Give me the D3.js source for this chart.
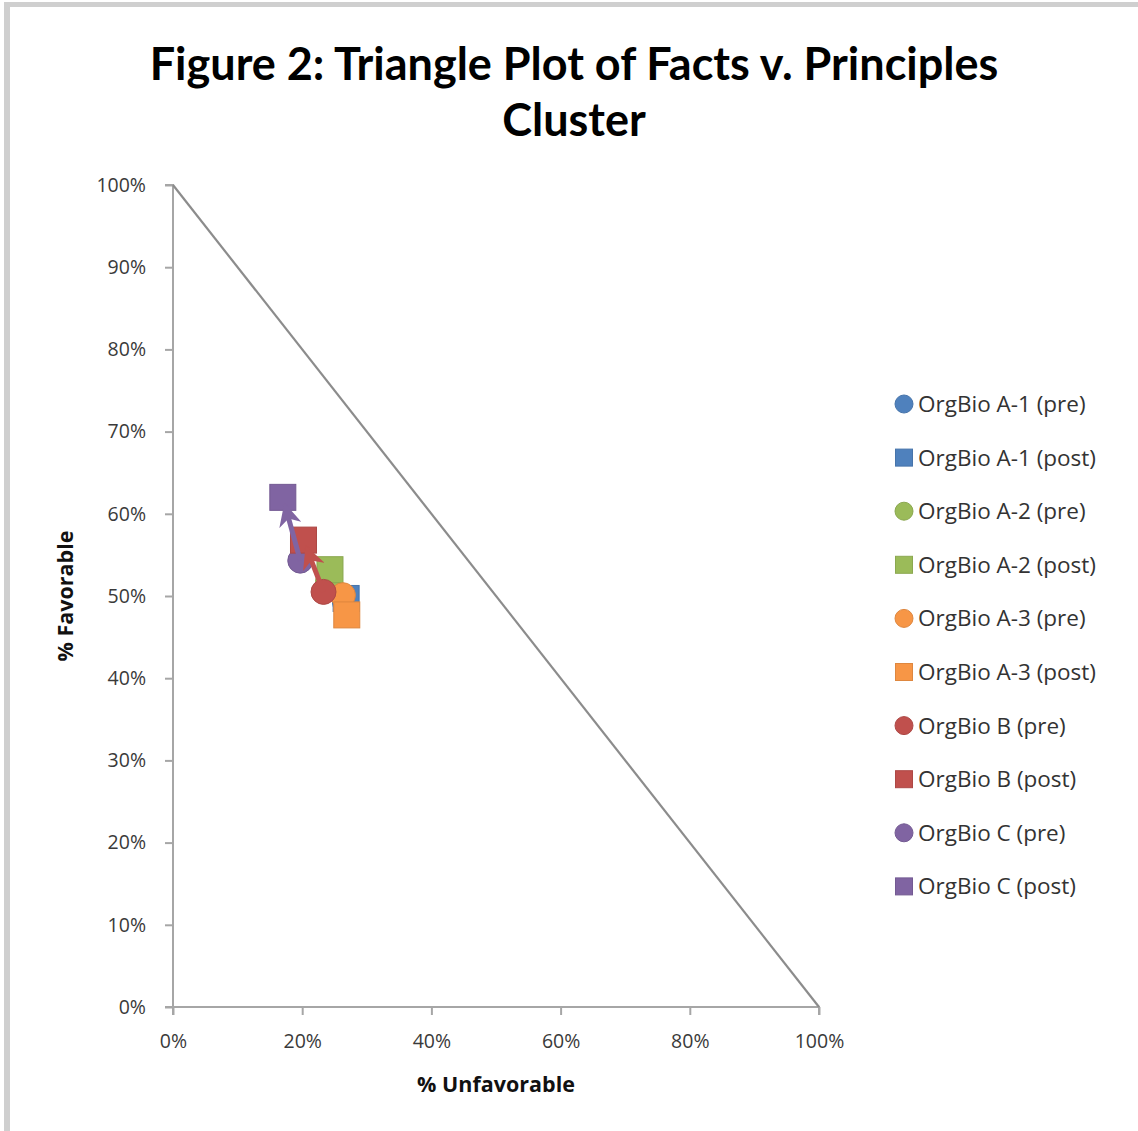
<!DOCTYPE html>
<html>
<head>
<meta charset="utf-8">
<script src="https://cdn.jsdelivr.net/npm/d3@7"></script>
<style>
  html, body { margin: 0; padding: 0; background: #fff; }
  svg { display: block; }
</style>
</head>
<body>
<svg id="chart" width="1138" height="1131"></svg>
<script>
// Series shown in the legend, in order
const seriesNames = [
  "OrgBio A-1 (pre)", "OrgBio A-1 (post)",
  "OrgBio A-2 (pre)", "OrgBio A-2 (post)",
  "OrgBio A-3 (pre)", "OrgBio A-3 (post)",
  "OrgBio B (pre)", "OrgBio B (post)",
  "OrgBio C (pre)", "OrgBio C (post)"
];
// Share of unfavorable responses (x) and favorable responses (y)
const unfavorable = [0.266, 0.268, 0.240, 0.243, 0.263, 0.269, 0.233, 0.202, 0.197, 0.170];
const favorable   = [0.493, 0.497, 0.518, 0.532, 0.501, 0.477, 0.505, 0.568, 0.543, 0.620];
const markerShapes = ["circle", "square", "circle", "square", "circle", "square", "circle", "square", "circle", "square"];
const seriesColors = ["#4f81bd", "#4f81bd", "#9bbb59", "#9bbb59", "#f79646", "#f79646", "#c0504d", "#c0504d", "#8064a2", "#8064a2"];
// Pre → post shifts drawn as arrows
const shiftArrows = [["OrgBio C (pre)", "OrgBio C (post)"], ["OrgBio B (pre)", "OrgBio B (post)"]];
// Marker stacking order (first drawn is at the bottom)
const drawOrder = [0, 1, 2, 3, 4, 5, 6, 8, 7, 9];
const axisTicks = [0, 0.1, 0.2, 0.3, 0.4, 0.5, 0.6, 0.7, 0.8, 0.9, 1];
const xTicks = [0, 0.2, 0.4, 0.6, 0.8, 1];

const svg = d3.select("#chart");
const fmt = d3.format(".0%");

// Chart frame (top and left edges)
svg.append("line").attr("x1", 4).attr("x2", 1138).attr("y1", 4.5).attr("y2", 4.5)
  .attr("stroke", "#cfcfcf").attr("stroke-width", 5);
svg.append("line").attr("x1", 7).attr("x2", 7).attr("y1", 2).attr("y2", 1131)
  .attr("stroke", "#cfcfcf").attr("stroke-width", 6);

// Title
const title = svg.append("text")
  .attr("x", 574).attr("text-anchor", "middle")
  .attr("font-family", "Lato, 'Open Sans', sans-serif")
  .attr("font-weight", "bold").attr("font-size", 45).attr("fill", "#000");
title.append("tspan").attr("x", 574).attr("y", 80).text("Figure 2: Triangle Plot of Facts v. Principles");
title.append("tspan").attr("x", 574).attr("y", 136).text("Cluster");

const x = d3.scaleLinear().domain([0, 1]).range([173, 819]);
const y = d3.scaleLinear().domain([0, 1]).range([1007, 185]);

const tickFont = "'Open Sans', Lato, sans-serif";

// Y axis
const yAxis = svg.append("g").attr("transform", `translate(${x(0)},0)`)
  .call(d3.axisLeft(y).tickValues(axisTicks).tickFormat(fmt).tickSize(8).tickPadding(19));
// X axis
const xAxis = svg.append("g").attr("transform", `translate(0,${y(0)})`)
  .call(d3.axisBottom(x).tickValues(xTicks).tickFormat(fmt).tickSize(8).tickPadding(19));

[yAxis, xAxis].forEach(g => {
  g.select(".domain").attr("stroke", "#a6a6a6").attr("stroke-width", 2);
  g.selectAll(".tick line").attr("stroke", "#a6a6a6").attr("stroke-width", 2);
  g.selectAll(".tick text").attr("font-family", tickFont).attr("font-size", 19.5).attr("fill", "#3a3a3a");
});
yAxis.select(".domain").attr("d", `M-8,${y(1)}H0V${y(0)}H-8`);
xAxis.select(".domain").attr("d", `M${x(0)},8V0H${x(1)}V8`);

// Axis titles
svg.append("text").attr("transform", `translate(73,${y(0.5)}) rotate(-90)`)
  .attr("text-anchor", "middle").attr("font-family", tickFont).attr("font-weight", "bold")
  .attr("font-size", 21.5).attr("fill", "#111").text("% Favorable");
svg.append("text").attr("x", 496).attr("y", 1092)
  .attr("text-anchor", "middle").attr("font-family", tickFont).attr("font-weight", "bold")
  .attr("font-size", 21.5).attr("fill", "#111").text("% Unfavorable");

// Boundary of the triangle: favorable + unfavorable = 100%
svg.append("line")
  .attr("x1", x(0)).attr("y1", y(1)).attr("x2", x(1)).attr("y2", y(0))
  .attr("stroke", "#8c8c8c").attr("stroke-width", 2.2);

// Data markers
const points = seriesNames.map((name, i) => ({
  name, ux: unfavorable[i], fy: favorable[i], shape: markerShapes[i], color: seriesColors[i]
}));

function drawMarker(sel, d, size) {
  if (d.shape === "circle") {
    sel.append("circle").attr("r", size / 2).attr("fill", d.color)
      .attr("stroke", d3.color(d.color).darker(0.3)).attr("stroke-width", 1);
  } else {
    sel.append("rect").attr("x", -size / 2).attr("y", -size / 2)
      .attr("width", size).attr("height", size).attr("fill", d.color)
      .attr("stroke", d3.color(d.color).darker(0.3)).attr("stroke-width", 1);
  }
}

const plot = svg.append("g");
drawOrder.forEach(i => {
  const d = points[i];
  const g = plot.append("g").attr("transform", `translate(${x(d.ux)},${y(d.fy)})`);
  drawMarker(g, d, d.shape === "circle" ? 25 : 26);
});

// Arrows from pre to post
const defs = svg.append("defs");
shiftArrows.forEach(([from, to], k) => {
  const a = points.find(p => p.name === from);
  const b = points.find(p => p.name === to);
  const id = "arrow" + k;
  defs.append("marker").attr("id", id).attr("viewBox", "0 0 10 10")
    .attr("refX", 9).attr("refY", 5).attr("markerWidth", 4.6).attr("markerHeight", 4.6)
    .attr("markerUnits", "strokeWidth").attr("orient", "auto")
    .append("path").attr("d", "M0,0L10,5L0,10L3,5Z").attr("fill", b.color);
  const x1 = x(a.ux), y1 = y(a.fy), x2 = x(b.ux), y2 = y(b.fy);
  const len = Math.hypot(x2 - x1, y2 - y1);
  const t = (len - 8) / len;
  plot.append("line")
    .attr("x1", x1).attr("y1", y1)
    .attr("x2", x1 + (x2 - x1) * t).attr("y2", y1 + (y2 - y1) * t)
    .attr("stroke", b.color).attr("stroke-width", 5)
    .attr("marker-end", `url(#${id})`);
});

// Legend
const legend = svg.append("g").attr("transform", "translate(904,404)");
points.forEach((d, i) => {
  const row = legend.append("g").attr("transform", `translate(0,${i * 53.6})`);
  drawMarker(row, d, d.shape === "circle" ? 18 : 17);
  row.append("text").attr("x", 14).attr("y", 8)
    .attr("font-family", tickFont).attr("font-size", 22.5).attr("fill", "#333")
    .text(d.name);
});
</script>
</body>
</html>
